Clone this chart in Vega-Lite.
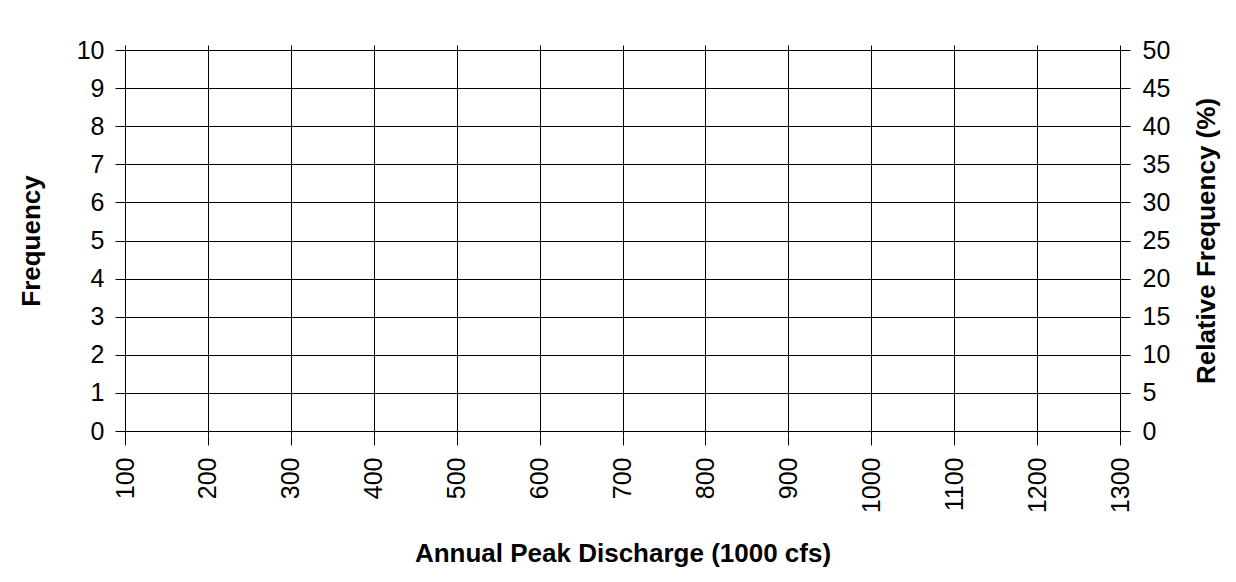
{
  "$schema": "https://vega.github.io/schema/vega-lite/v6.json",
  "width": 995,
  "height": 391,
  "autosize": {"type": "none"},
  "padding": {"left": 125, "top": 45, "right": 116, "bottom": 146},
  "background": "white",
  "config": {
    "view": {"stroke": null},
    "font": "Liberation Sans",
    "axis": {
      "domainColor": "black",
      "domainWidth": 1,
      "tickColor": "black",
      "tickWidth": 1,
      "gridColor": "black",
      "gridOpacity": 1,
      "gridWidth": 1,
      "labelColor": "black",
      "labelFont": "Liberation Sans",
      "labelFontSize": 25,
      "titleColor": "black",
      "titleFont": "Liberation Sans",
      "titleFontSize": 26,
      "titleFontWeight": "bold",
      "labelFlush": false,
      "labelOverlap": false
    }
  },
  "data": {
    "values": [
      {"bin_start": 100, "bin_end": 200, "frequency": 0, "relative_frequency": 0},
      {"bin_start": 200, "bin_end": 300, "frequency": 0, "relative_frequency": 0},
      {"bin_start": 300, "bin_end": 400, "frequency": 0, "relative_frequency": 0},
      {"bin_start": 400, "bin_end": 500, "frequency": 0, "relative_frequency": 0},
      {"bin_start": 500, "bin_end": 600, "frequency": 0, "relative_frequency": 0},
      {"bin_start": 600, "bin_end": 700, "frequency": 0, "relative_frequency": 0},
      {"bin_start": 700, "bin_end": 800, "frequency": 0, "relative_frequency": 0},
      {"bin_start": 800, "bin_end": 900, "frequency": 0, "relative_frequency": 0},
      {"bin_start": 900, "bin_end": 1000, "frequency": 0, "relative_frequency": 0},
      {"bin_start": 1000, "bin_end": 1100, "frequency": 0, "relative_frequency": 0},
      {"bin_start": 1100, "bin_end": 1200, "frequency": 0, "relative_frequency": 0},
      {"bin_start": 1200, "bin_end": 1300, "frequency": 0, "relative_frequency": 0}
    ]
  },
  "layer": [
    {
      "mark": {"type": "bar", "color": "#808080", "opacity": 0},
      "encoding": {
        "x": {
          "field": "bin_start",
          "type": "quantitative",
          "scale": {"domain": [100, 1300], "nice": false, "zero": false},
          "axis": {
            "title": "Annual Peak Discharge (1000 cfs)",
            "values": [100, 200, 300, 400, 500, 600, 700, 800, 900, 1000, 1100, 1200, 1300],
            "format": "d",
            "grid": true,
            "domain": false,
            "tickSize": 9,
            "labelAngle": -90,
            "labelAlign": "right",
            "labelBaseline": "middle",
            "labelPadding": 12,
            "titlePadding": 28
          }
        },
        "x2": {"field": "bin_end"},
        "y": {
          "field": "frequency",
          "type": "quantitative",
          "scale": {"domain": [0, 10], "nice": false},
          "axis": {
            "title": "Frequency",
            "values": [0, 1, 2, 3, 4, 5, 6, 7, 8, 9, 10],
            "grid": true,
            "domain": false,
            "tickSize": 10,
            "labelPadding": 11,
            "titlePadding": 32
          }
        }
      }
    },
    {
      "mark": {"type": "bar", "color": "#808080", "opacity": 0},
      "encoding": {
        "x": {"field": "bin_start", "type": "quantitative"},
        "x2": {"field": "bin_end"},
        "y": {
          "field": "relative_frequency",
          "type": "quantitative",
          "scale": {"domain": [0, 50], "nice": false},
          "axis": {
            "orient": "right",
            "title": "Relative Frequency (%)",
            "titleAngle": 270,
            "titleBaseline": "top",
            "values": [0, 5, 10, 15, 20, 25, 30, 35, 40, 45, 50],
            "grid": false,
            "domain": false,
            "tickSize": 10,
            "labelPadding": 12,
            "titlePadding": 24
          }
        }
      }
    }
  ],
  "resolve": {"scale": {"y": "independent"}}
}
